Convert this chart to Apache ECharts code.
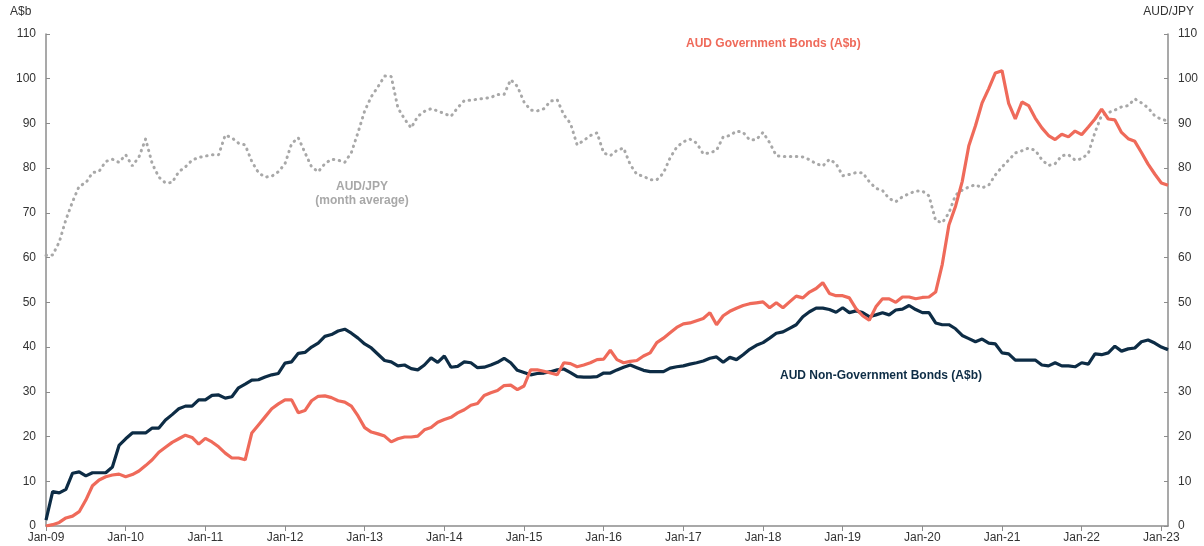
<!DOCTYPE html>
<html>
<head>
<meta charset="utf-8">
<style>
  html, body { margin: 0; padding: 0; background: #fff; }
  #chart { width: 1204px; height: 546px; }
</style>
<script src="https://cdn.jsdelivr.net/npm/echarts@6/dist/echarts.min.js"></script>
</head>
<body>
<div id="chart"></div>
<script>
  // monthly, Jan-09 .. Feb-23
  const monthNames = ["Jan", "Feb", "Mar", "Apr", "May", "Jun", "Jul", "Aug", "Sep", "Oct", "Nov", "Dec"];
  const years = ["09", "10", "11", "12", "13", "14", "15", "16", "17", "18", "19", "20", "21", "22", "23"];

  const govBonds = [
    0, 0.3, 0.8, 1.8, 2.2, 3.2, 5.8, 9.0, 10.3, 11.0, 11.4, 11.6,
    11.0, 11.5, 12.3, 13.5, 14.8, 16.5, 17.6, 18.7, 19.5, 20.3, 19.8, 18.3,
    19.6, 18.8, 17.7, 16.3, 15.2, 15.2, 14.8, 20.8, 22.6, 24.4, 26.2, 27.3,
    28.2, 28.2, 25.3, 25.8, 28.0, 29.0, 29.1, 28.7, 28.0, 27.7, 26.8, 24.6,
    22.0, 21.0, 20.6, 20.1, 18.8, 19.5, 19.9, 19.9, 20.1, 21.5, 22.0, 23.2,
    23.8, 24.3, 25.3, 26.0, 27.0, 27.4, 29.2, 29.8, 30.3, 31.4, 31.5, 30.5,
    31.3, 34.9, 34.9, 34.6, 34.2, 33.8, 36.5, 36.3, 35.6, 36.0, 36.5, 37.2,
    37.3, 39.3, 37.2, 36.5, 36.8, 37.0, 38.0, 38.7, 41.0, 42.0, 43.2, 44.4,
    45.2, 45.4, 45.9, 46.4, 47.7, 45.0, 47.0, 48.0, 48.7, 49.3, 49.7, 49.9,
    50.1, 48.8, 49.9, 48.8, 50.1, 51.4, 51.0, 52.3, 53.1, 54.4, 52.0, 51.5,
    51.5, 51.0, 48.6, 47.0, 46.0, 49.0, 50.8, 50.8, 50.0, 51.2, 51.2, 50.8,
    51.1, 51.2, 52.3, 58.5, 67.3, 71.5, 77.0, 85.0, 89.5, 94.6, 97.8, 101.3,
    101.8, 94.5, 91.0, 94.8, 94.0, 91.2, 89.0, 87.3, 86.4, 87.6, 87.0, 88.3,
    87.5, 89.2, 91.0, 93.2, 91.0, 90.8, 88.0, 86.6, 86.0, 83.5, 80.9, 78.7,
    76.7, 76.2
  ];

  const nonGovBonds = [
    1.3, 7.7, 7.4, 8.2, 11.8, 12.1, 11.2, 11.9, 11.9, 11.9, 13.2, 18.0,
    19.5, 20.8, 20.8, 20.8, 21.9, 21.9, 23.7, 24.9, 26.2, 26.8, 26.8, 28.2,
    28.2, 29.2, 29.3, 28.6, 28.9, 30.9, 31.7, 32.6, 32.7, 33.3, 33.8, 34.1,
    36.4, 36.7, 38.6, 38.8, 40.0, 40.9, 42.4, 42.8, 43.6, 44.0, 43.1, 42.0,
    40.7, 39.8, 38.4, 37.0, 36.7, 35.8, 36.0, 35.2, 34.9, 36.0, 37.6, 36.6,
    38.0, 35.5, 35.7, 36.7, 36.5, 35.4, 35.5, 36.0, 36.6, 37.5, 36.5, 34.8,
    34.3, 33.8, 34.1, 34.2, 34.5, 34.9, 35.1, 34.3, 33.4, 33.3, 33.3, 33.4,
    34.2, 34.2, 34.9, 35.5, 36.0, 35.4, 34.8, 34.5, 34.5, 34.5, 35.3, 35.6,
    35.8, 36.2, 36.5, 36.9, 37.5, 37.8, 36.6, 37.7, 37.2, 38.3, 39.5, 40.4,
    41.0, 42.0, 43.1, 43.4, 44.2, 45.0, 46.8, 47.9, 48.7, 48.7, 48.4, 47.8,
    48.8, 47.7, 48.1, 47.7, 46.8, 47.2, 47.7, 47.2, 48.3, 48.5, 49.3, 48.4,
    47.7, 47.7, 45.4, 45.0, 45.0, 44.1, 42.6, 41.9, 41.2, 41.8, 40.9, 40.7,
    38.7, 38.5, 37.1, 37.1, 37.1, 37.1, 36.0, 35.8, 36.5, 35.8, 35.8, 35.6,
    36.5, 36.2, 38.5, 38.3, 38.7, 40.2, 39.1, 39.6, 39.8, 41.2, 41.6, 40.9,
    40.0, 39.4
  ];

  const audJpy = [
    60.5, 60.6, 63.5, 68.5, 72.5, 76.0, 76.7, 79.0, 79.3, 81.5, 82.0, 81.3,
    83.0, 80.5, 82.5, 86.5, 81.0, 78.0, 76.7, 76.8, 79.2, 80.3, 81.8, 82.4,
    82.7, 83.0, 83.0, 87.4, 86.8, 85.6, 85.2, 81.5, 79.0, 78.0, 78.2, 79.2,
    81.0, 85.5, 86.8, 83.5, 80.3, 79.2, 81.0, 82.0, 81.8, 81.3, 83.5, 88.0,
    92.8, 96.0, 98.2, 100.6, 100.5, 93.5, 91.0, 89.0, 91.6, 92.7, 93.3, 92.8,
    92.2, 91.6, 93.5, 95.1, 95.2, 95.4, 95.6, 95.8, 96.5, 96.5, 99.8, 98.3,
    94.8, 93.0, 92.8, 93.3, 95.0, 95.3, 91.9, 90.0, 85.2, 86.2, 87.3, 87.9,
    83.4, 82.8, 84.0, 84.5, 80.8, 78.6, 78.2, 77.4, 77.4, 78.9, 82.3, 84.7,
    85.9, 86.5, 85.6, 83.2, 83.4, 84.0, 87.0, 87.3, 88.3, 88.0, 86.3, 86.4,
    88.0, 85.7, 82.8, 82.6, 82.6, 82.6, 82.5, 81.9, 81.0, 80.5, 82.0, 81.0,
    78.3, 78.6, 79.0, 79.0, 77.0, 75.5, 75.0, 73.2, 72.5, 73.6, 74.3, 74.9,
    74.9, 73.8, 68.3, 67.8, 70.0, 74.0, 75.1, 75.8, 76.3, 75.6, 76.2, 78.5,
    80.3, 81.8, 83.4, 83.9, 84.5, 84.0, 81.9, 80.6, 81.0, 82.8, 83.0, 81.8,
    82.1, 83.3, 88.0, 91.8, 92.4, 93.0, 93.7, 94.0, 95.5, 94.6, 93.5, 91.7,
    90.9, 90.6
  ];

  const months = [];
  years.forEach((y) => {
    monthNames.forEach((m) => {
      if (months.length < govBonds.length) months.push(`${m}-${y}`);
    });
  });

  const font = "'Liberation Sans', Arial, sans-serif";
  const axisGrey = "#8c8c8c";
  const red = "#ef6a5a";
  const navy = "#0d2c45";
  const grey = "#a8a8a8";

  const chart = echarts.init(document.getElementById("chart"));

  function yAxisCfg(pos) {
    return {
      type: "value",
      position: pos,
      min: 0,
      max: 110,
      interval: 10,
      axisLine: { show: true, lineStyle: { color: axisGrey, width: 1.5 } },
      axisTick: { show: true, inside: true, length: 4, lineStyle: { color: axisGrey } },
      splitLine: { show: false },
      axisLabel: { color: "#333", fontFamily: font, fontSize: 12, margin: 10 },
    };
  }

  chart.setOption({
    backgroundColor: "#fff",
    animation: false,
    grid: { left: 46, right: 36, top: 34, bottom: 20, containLabel: false },
    xAxis: {
      type: "category",
      data: months,
      boundaryGap: false,
      axisLine: { lineStyle: { color: axisGrey, width: 1.5 } },
      axisTick: { interval: 11, length: 5, lineStyle: { color: axisGrey } },
      axisLabel: { interval: 11, color: "#333", fontFamily: font, fontSize: 12, margin: 6 },
    },
    yAxis: [yAxisCfg("left"), yAxisCfg("right")],
    series: [
      {
        name: "AUD/JPY",
        type: "line",
        yAxisIndex: 1,
        data: audJpy,
        showSymbol: false,
        lineStyle: { color: grey, width: 3, type: [0.5, 5.5], cap: "round" },
        z: 1,
      },
      {
        name: "AUD Non-Government Bonds (A$b)",
        type: "line",
        data: nonGovBonds,
        showSymbol: false,
        lineStyle: { color: navy, width: 3.2 },
        z: 2,
      },
      {
        name: "AUD Government Bonds (A$b)",
        type: "line",
        data: govBonds,
        showSymbol: false,
        lineStyle: { color: red, width: 3.2 },
        z: 3,
      },
    ],
    graphic: [
      { type: "text", left: 10, top: 6, style: { text: "A$b", fill: "#333", font: `12px ${font}` } },
      { type: "text", right: 10, top: 6, style: { text: "AUD/JPY", fill: "#333", font: `12px ${font}` } },
      {
        type: "text", left: 686, top: 38,
        style: { text: "AUD Government Bonds (A$b)", fill: red, font: `bold 12px ${font}` },
      },
      {
        type: "text", left: 780, top: 370,
        style: { text: "AUD Non-Government Bonds (A$b)", fill: navy, font: `bold 12px ${font}` },
      },
      {
        type: "text", x: 362, y: 180,
        style: {
          text: "AUD/JPY\n(month average)", fill: grey, font: `bold 12px ${font}`,
          align: "center", lineHeight: 14,
        },
      },
    ],
  });
</script>
</body>
</html>
